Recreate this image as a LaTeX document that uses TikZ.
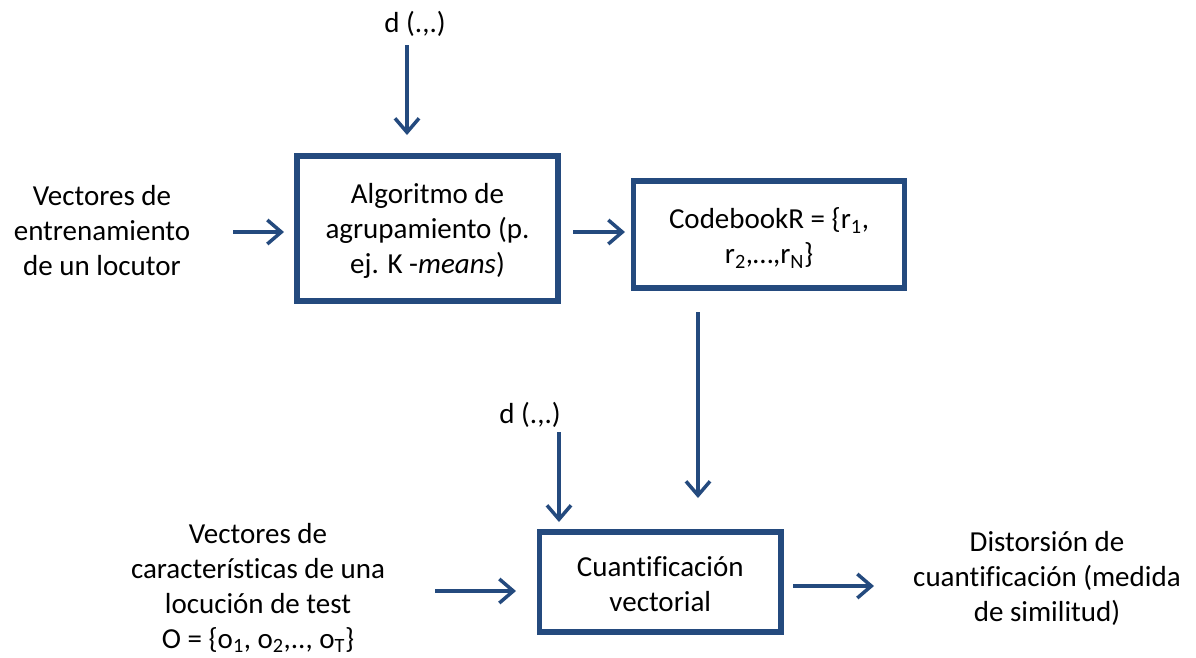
\documentclass[tikz,border=0pt]{standalone}
\usepackage{fontspec}
\setmainfont{Carlito}[Ligatures=NoCommon]
\usetikzlibrary{arrows.meta}
\definecolor{myblue}{RGB}{36,74,126}
\tikzset{
  lbl/.style={inner sep=0pt, align=center, font=\fontsize{29}{35}\selectfont},
  blk/.style={draw=myblue, line width=5.5pt, inner sep=0pt},
  arr/.style={draw=myblue, line width=3.5pt, -{Straight Barb[length=14pt,width=24pt]}}
}
\begin{document}
\begin{tikzpicture}[x=1pt,y=-1pt]
\useasboundingbox (0,0) rectangle (1196,657);
% boxes
\node[blk, minimum width=261pt, minimum height=145pt] (b1) at (427.5,228.5) {};
\node[lbl] (t1) at (427.5,231) {Algoritmo de\\agrupamiento (p.\\ej. K -\textit{means})};
\node[blk, minimum width=271pt, minimum height=107pt] (b2) at (769,234.5) {};
\node[lbl] (t2) at (769,238) {CodebookR = \{r\textsubscript{1},\\r\textsubscript{2},…,r\textsubscript{N}\}};
\node[blk, minimum width=241.5pt, minimum height=100pt] (b3) at (660.25,582) {};
\node[lbl] (t3) at (660.25,584) {Cuantificación\\vectorial};
% labels
\node[lbl] (d1) at (415,24) {d (.,.)};
\node[lbl] (d2) at (530,415) {d (.,.)};
\node[lbl] (in1) at (102,231) {Vectores de\\entrenamiento\\de un locutor};
\node[lbl] (in2) at (258,588) {Vectores de\\características de una\\locución de test\\O = \{o\textsubscript{1}, o\textsubscript{2},.., o\textsubscript{T}\}};
\node[lbl] (out) at (1047,578) {Distorsión de\\cuantificación (medida\\de similitud)};
% arrow end points
\coordinate (a1s) at (233,232); \coordinate (a1e) at (284,232);
\coordinate (a2s) at (573,232); \coordinate (a2e) at (625,232);
\coordinate (a3s) at (407,45);  \coordinate (a3e) at (407,135);
\coordinate (a4s) at (698,312); \coordinate (a4e) at (698,498);
\coordinate (a5s) at (559,432); \coordinate (a5e) at (559,522);
\coordinate (a6s) at (435,591); \coordinate (a6e) at (516,591);
\coordinate (a7s) at (793,586); \coordinate (a7e) at (874,586);
\draw[arr] (a1s) -- (a1e);
\draw[arr] (a2s) -- (a2e);
\draw[arr] (a3s) -- (a3e);
\draw[arr] (a4s) -- (a4e);
\draw[arr] (a5s) -- (a5e);
\draw[arr] (a6s) -- (a6e);
\draw[arr] (a7s) -- (a7e);
\end{tikzpicture}
\end{document}
